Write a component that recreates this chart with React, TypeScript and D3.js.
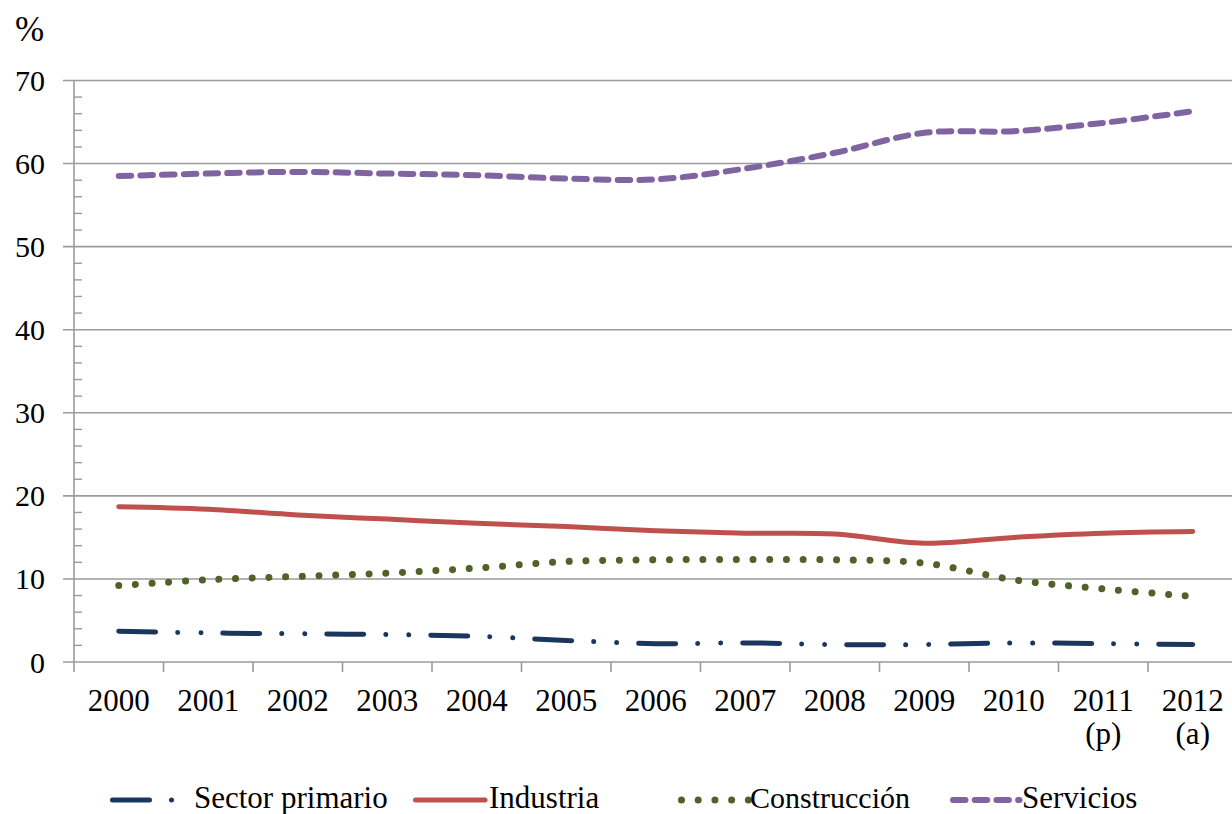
import React from "react";
import * as d3 from "d3";

const years = ["2000","2001","2002","2003","2004","2005","2006","2007","2008","2009","2010","2011","2012"];
const yearNotes = ["","","","","","","","","","","","(p)","(a)"];
const sectorPrimario = [3.7, 3.5, 3.4, 3.3, 3.1, 2.6, 2.2, 2.3, 2.1, 2.1, 2.3, 2.2, 2.1];
const industria = [18.7, 18.4, 17.7, 17.2, 16.7, 16.3, 15.8, 15.5, 15.4, 14.3, 15.0, 15.5, 15.7];
const construccion = [9.2, 9.9, 10.3, 10.7, 11.3, 12.1, 12.3, 12.35, 12.3, 11.9, 9.9, 8.8, 7.9];
const servicios = [58.5, 58.8, 59.0, 58.8, 58.6, 58.2, 58.1, 59.4, 61.3, 63.7, 63.9, 64.9, 66.3];
const yTicks = [0, 10, 20, 30, 40, 50, 60, 70];
const yMinor = [2, 4, 6, 8, 12, 14, 16, 18, 22, 24, 26, 28, 32, 34, 36, 38, 42, 44, 46, 48, 52, 54, 56, 58, 62, 64, 66, 68];

const W = 1232, H = 814;
const FONT = '"Liberation Serif", Tinos, "DejaVu Serif", serif';

const seriesDefs = [
  { name: "Sector primario", values: sectorPrimario, color: "#1B365D", width: 5, dash: "37 22 0.01 23 0.01 22", cap: "round" },
  { name: "Industria", values: industria, color: "#C0504D", width: 5, dash: "", cap: "round" },
  { name: "Construcción", values: construccion, color: "#4F6228", width: 7, dash: "0.01 16.7", cap: "round" },
  { name: "Servicios", values: servicios, color: "#8064A2", width: 6, dash: "12.5 9.2", cap: "round" },
];

export default function App() {
  const x = d3.scaleBand<string>().domain(years).range([74, 74 + 13 * 89.5]).paddingInner(0).paddingOuter(0);
  const y = d3.scaleLinear().domain([0, 70]).range([662, 80.5]);
  const cx = (i: number) => (x(years[i]) as number) + x.bandwidth() / 2;
  const line = d3.line<number>().x((_, i) => cx(i)).y((d) => y(d)).curve(d3.curveCatmullRom.alpha(0.5));
  const boundaries = d3.range(0, 14).map((k) => 74 + k * x.bandwidth());
  const x0 = 74, x1 = 74 + 13 * x.bandwidth();

  const legend = [
    { s: seriesDefs[0], lx1: 112.5, lx2: 173, tx: 194, fs: 31 },
    { s: seriesDefs[1], lx1: 415.5, lx2: 485, tx: 489, fs: 31 },
    { s: seriesDefs[2], lx1: 681.5, lx2: 749, tx: 750, fs: 30 },
    { s: seriesDefs[3], lx1: 953, lx2: 1019.5, tx: 1022, fs: 31 },
  ];

  const textStyle = { fontFamily: FONT };

  return (
    <svg width={W} height={H} style={{ position: "absolute", left: 0, top: 0, background: "#fff" }}>
      <rect x={0} y={0} width={W} height={H} fill="#fff" />
      <text x={15} y={41} fontSize={35} fill="#000" style={textStyle}>%</text>
      {yTicks.map((t) => (
        <g key={t}>
          <line x1={63} x2={x1} y1={y(t)} y2={y(t)} stroke="#9b9b9b" strokeWidth={1.6} />
          <text x={45} y={y(t)} dy="0.35em" textAnchor="end" fontSize={30} fill="#000" style={textStyle}>{t}</text>
        </g>
      ))}
      {yMinor.map((t) => (
        <line key={t} x1={x0} x2={x0 + 8} y1={y(t)} y2={y(t)} stroke="#9b9b9b" strokeWidth={1.4} />
      ))}
      <line x1={x0} x2={x0} y1={y(70)} y2={y(0)} stroke="#9b9b9b" strokeWidth={1.6} />
      {boundaries.map((b, k) => (
        <line key={k} x1={b} x2={b} y1={y(0)} y2={y(0) + 10} stroke="#9b9b9b" strokeWidth={1.6} />
      ))}
      {years.map((yr, i) => (
        <g key={yr}>
          <text x={cx(i)} y={711} textAnchor="middle" fontSize={31} fill="#000" style={textStyle}>{yr}</text>
          {yearNotes[i] && (
            <text x={cx(i)} y={744} textAnchor="middle" fontSize={31} fill="#000" style={textStyle}>{yearNotes[i]}</text>
          )}
        </g>
      ))}
      {seriesDefs.map((s) => (
        <path key={s.name} d={line(s.values) || ""} fill="none" stroke={s.color} strokeWidth={s.width}
          strokeDasharray={s.dash || undefined} strokeLinecap={s.cap as any} strokeLinejoin="round" />
      ))}
      {legend.map(({ s, lx1, lx2, tx, fs }) => (
        <g key={s.name}>
          <line x1={lx1} x2={lx2} y1={800} y2={800} stroke={s.color} strokeWidth={s.width}
            strokeDasharray={s.dash || undefined} strokeLinecap={s.cap as any} />
          <text x={tx} y={808} fontSize={fs} fill="#000" style={textStyle}>{s.name}</text>
        </g>
      ))}
    </svg>
  );
}
